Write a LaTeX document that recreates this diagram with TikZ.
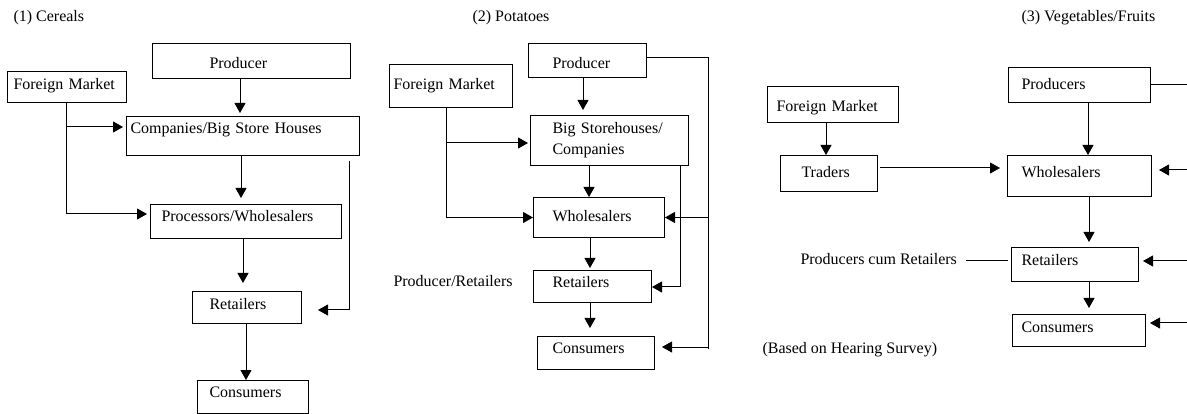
\documentclass[tikz,border=0pt]{standalone}
\usepackage{fontspec}
\setmainfont{Liberation Serif}
\usetikzlibrary{arrows.meta}

\begin{document}
\begin{tikzpicture}[x=1pt, y=-1pt, line width=1pt,
	font=\fontsize{16}{21}\selectfont,
	box/.style n args={4}{draw, anchor=north west, align=left, inner ysep=0pt,
		inner xsep=#1, text width=#2, text height=#3, text depth=#4},
	tag/.style={anchor=base west, inner sep=0pt},
	arr/.style={-{Triangle[length=10pt, width=11pt]}}]
	\useasboundingbox (0,0) rectangle (1187,414);

	% (1) Cereals
	\node (titleA) [tag] at (13,22) {(1) Cereals};
	\node (prodA) [box={57pt}{84pt}{25pt}{10pt}] at (152,43) {Producer};
	\node (fmA) [box={6pt}{107pt}{18pt}{13pt}] at (7,71) {Foreign Market};
	\node (compA) [box={4pt}{225pt}{17pt}{22pt}] at (126,116) {Companies/Big Store Houses};
	\node (procA) [box={11pt}{169pt}{17pt}{17pt}] at (150,204) {Processors/Wholesalers};
	\node (retA) [box={17pt}{75pt}{18pt}{14pt}] at (192,291) {Retailers};
	\node (consA) [box={12pt}{87pt}{17pt}{16pt}] at (197,380) {Consumers};
	\coordinate (jA) at (66,127);

	\draw [arr, shorten >=3pt] (prodA.south -| 240,0) -- (compA.north -| 240,0);
	\draw [arr, shorten >=3pt] (fmA.south -| jA) |- (procA.west |- 0,214);
	\draw [arr, shorten >=3pt] (jA) -- (compA.west |- jA);
	\draw [arr, shorten >=6pt] (compA.south -| 241,0) -- (procA.north -| 241,0);
	\draw [arr, shorten >=8pt] (procA.south -| 243,0) -- (retA.north -| 243,0);
	\draw [arr, shorten <=5pt, shorten >=16pt] (compA.south -| 349,0) |- (retA.east |- 0,310);
	\draw [arr] (retA.south -| 246,0) -- (consA.north -| 246,0);

	% (2) Potatoes
	\node (titleB) [tag] at (472,22) {(2) Potatoes};
	\node (prodB) [box={24pt}{70pt}{25pt}{9pt}] at (528,43) {Producer};
	\node (fmB) [box={4pt}{115pt}{25pt}{18pt}] at (389,64) {Foreign Market};
	\node (bigB) [box={22pt}{114pt}{18pt}{32pt}] at (530,115) {Big Storehouses/\\Companies};
	\node (wholB) [box={19pt}{93pt}{24pt}{16pt}] at (533,197) {Wholesalers};
	\node (retB) [box={19pt}{80pt}{17pt}{15pt}] at (533,270) {Retailers};
	\node (consB) [box={15pt}{87pt}{17pt}{16pt}] at (537,336) {Consumers};
	\node (prB) [tag] at (393,287) {Producer/Retailers};
	\coordinate (jB) at (446,143);
	\coordinate (botB) at (708,349);

	\draw [arr, shorten >=5pt] (prodB.south -| 583,0) -- (bigB.north -| 583,0);
	\draw [arr] (fmB.south -| jB) |- (wholB.west);
	\draw [arr, shorten >=2pt] (jB) -- (bigB.west |- jB);
	\draw [arr] (bigB.south -| 589,0) -- (wholB.north -| 589,0);
	\draw [arr, shorten >=2pt] (wholB.south -| 590,0) -- (retB.north -| 590,0);
	\draw [arr, shorten >=8pt] (retB.south -| 590,0) -- (consB.north -| 590,0);
	\draw (prodB.east |- 0,58) -| (botB);
	\draw [arr] (botB |- wholB.east) -- (wholB.east);
	\draw [arr, shorten >=7pt] (botB |- 0,347) -- (consB.east |- 0,347);
	\draw [arr] (bigB.south -| 680,0) |- (retB.east |- 0,287);

	% (3) Vegetables/Fruits
	\node (titleC) [tag] at (1021,22) {(3) Vegetables/Fruits};
	\node (prodC) [box={13pt}{116pt}{22pt}{13pt}] at (1008,67) {Producers};
	\node (fmC) [box={9pt}{113pt}{25pt}{11pt}] at (767,86) {Foreign Market};
	\node (tradC) [box={21pt}{55pt}{22pt}{14pt}] at (780,155) {Traders};
	\node (wholC) [box={14pt}{116pt}{22pt}{19pt}] at (1007,155) {Wholesalers};
	\node (retC) [box={10pt}{107pt}{18pt}{16pt}] at (1011,247) {Retailers};
	\node (consC) [box={9pt}{115pt}{18pt}{14pt}] at (1012,314) {Consumers};
	\node (pcrC) [tag] at (800,265) {Producers cum Retailers};
	\node (srcC) [tag] at (762,353) {(Based on Hearing Survey)};
	\coordinate (rim) at (1187,0);

	\draw [arr] (fmC.south -| 826,0) -- (tradC.north -| 826,0);
	\draw [arr, shorten <=2pt, shorten >=7pt] (tradC.east |- 0,168) -- (wholC.west |- 0,168);
	\draw [arr] (prodC.south -| 1088,0) -- (wholC.north -| 1088,0);
	\draw [arr, shorten >=5pt] (wholC.south -| 1089,0) -- (retC.north -| 1089,0);
	\draw [arr, shorten >=6pt] (retC.south -| 1089,0) -- (consC.north -| 1089,0);
	\draw (prodC.east) -- (prodC.east -| rim);
	\draw [arr, shorten >=7pt] (rim |- 0,170) -- (wholC.east |- 0,170);
	\draw [arr, shorten >=4pt] (rim |- 0,261) -- (retC.east |- 0,261);
	\draw [arr, shorten >=4pt] (rim |- 0,323) -- (consC.east |- 0,323);
	\draw [shorten <=9pt, shorten >=3pt] (pcrC.east |- 0,261) -- (retC.west |- 0,261);
\end{tikzpicture}
\end{document}
